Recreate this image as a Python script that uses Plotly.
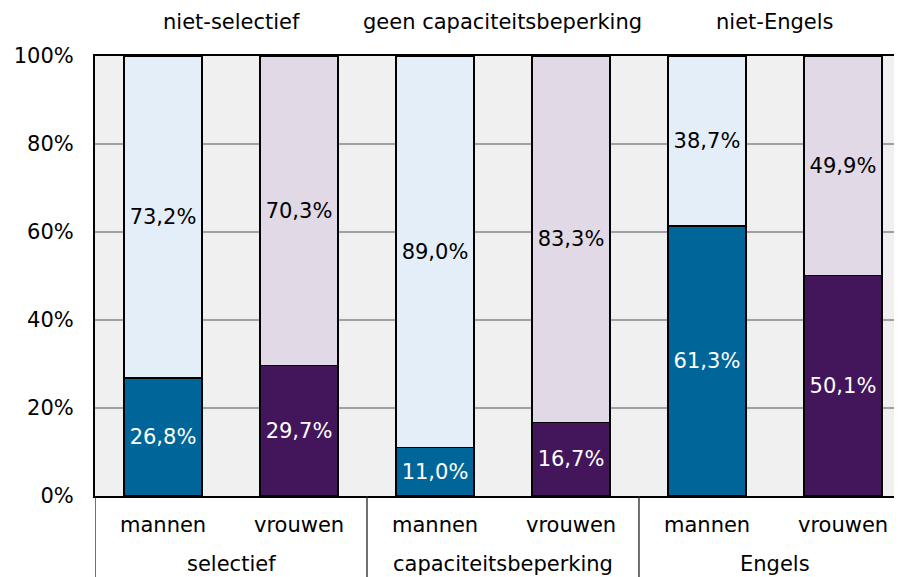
import plotly.graph_objects as go

# ---- data ----
groups = ["selectief", "capaciteitsbeperking", "Engels"]
top_groups = ["niet-selectief", "geen capaciteitsbeperking", "niet-Engels"]
sexes = ["mannen", "vrouwen"]
share_lower = [26.8, 29.7, 11.0, 16.7, 61.3, 50.1]
share_upper = [73.2, 70.3, 89.0, 83.3, 38.7, 49.9]
y_ticks = [0, 20, 40, 60, 80, 100]

# ---- styles ----
dark = {"mannen": "#006699", "vrouwen": "#43165c"}
light = {"mannen": "#e4eef8", "vrouwen": "#e1d9e6"}
FONT = "DejaVu Sans"
FS = 21

xpos = list(range(len(share_lower)))
sex_of = [sexes[i % 2] for i in xpos]

def fmt(v):
    return f"{v:.1f}".replace(".", ",") + "%"

fig = go.Figure()
fig.add_trace(go.Bar(
    x=xpos, y=share_lower,
    marker=dict(color=[dark[s] for s in sex_of], line=dict(color="black", width=1.6)),
    text=[fmt(v) for v in share_lower], textposition="inside",
    insidetextanchor="middle", constraintext="none",
    textfont=dict(color="white", size=FS, family=FONT),
    width=0.574, hoverinfo="skip",
))
fig.add_trace(go.Bar(
    x=xpos, y=share_upper,
    marker=dict(color=[light[s] for s in sex_of], line=dict(color="black", width=1.6)),
    text=[fmt(v) for v in share_upper], textposition="inside",
    insidetextanchor="middle", constraintext="none",
    textfont=dict(color="black", size=FS, family=FONT),
    width=0.574, hoverinfo="skip",
))

annotations = []
shapes = []
for g, (bot, top) in enumerate(zip(groups, top_groups)):
    cx = 2 * g + 0.5
    annotations.append(dict(x=cx, y=1, xref="x", yref="paper", text=top,
                            showarrow=False, yanchor="middle", yshift=34,
                            font=dict(size=FS, family=FONT, color="black")))
    annotations.append(dict(x=cx, y=0, xref="x", yref="paper", text=bot,
                            showarrow=False, yanchor="middle", yshift=-68,
                            font=dict(size=FS, family=FONT, color="black")))
for i in xpos:
    annotations.append(dict(x=i, y=0, xref="x", yref="paper", text=sex_of[i],
                            showarrow=False, yanchor="middle", yshift=-29,
                            font=dict(size=FS, family=FONT, color="black")))
for b in [-0.5, 1.5, 3.5, 5.5]:
    shapes.append(dict(type="line", xref="x", yref="paper", x0=b, x1=b,
                       y0=0, y1=-0.2, line=dict(color="#222222", width=1.3)))

fig.update_layout(
    width=894, height=569,
    margin=dict(l=87, r=0, t=48, b=81),
    paper_bgcolor="white", plot_bgcolor="#f0f0f0",
    barmode="stack", showlegend=False,
    font=dict(family=FONT, size=FS, color="black"),
    annotations=annotations, shapes=shapes,
    xaxis=dict(range=[-0.5, 5.434], showticklabels=False, showgrid=False,
               zeroline=False, showline=True, mirror=True,
               linecolor="black", linewidth=2, fixedrange=True),
    yaxis=dict(range=[0, 100], tickvals=y_ticks,
               ticktext=[f"{v}%" for v in y_ticks],
               showgrid=True, gridcolor="#a0a0a0", gridwidth=2,
               zeroline=False, showline=True, linecolor="black", linewidth=2,
               ticks="", ticklabelstandoff=15, fixedrange=True),
)

fig.write_html("out.html")
